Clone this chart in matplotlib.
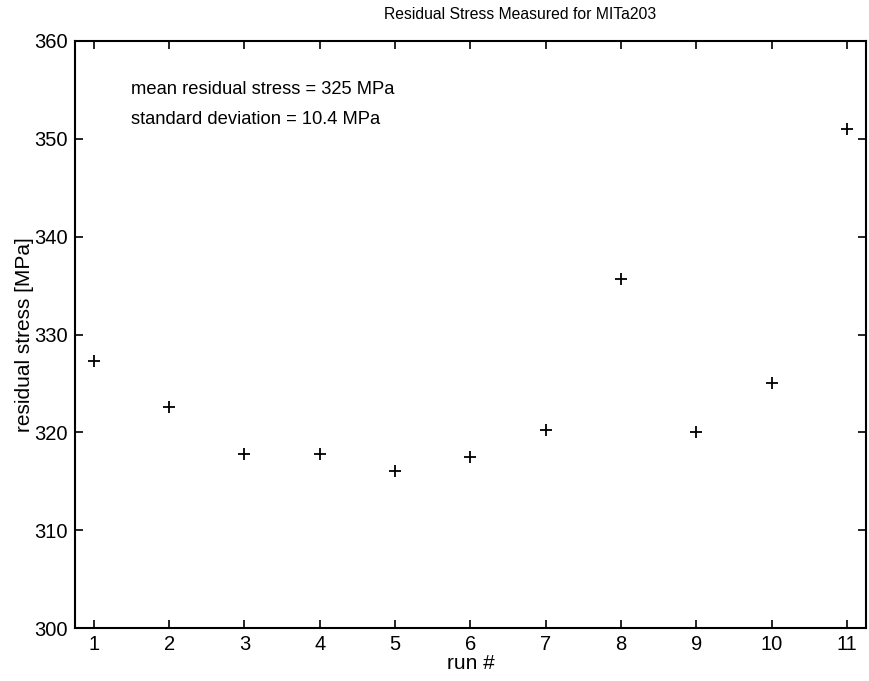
import matplotlib
matplotlib.use("Agg")
import matplotlib.pyplot as plt

plt.rcParams['font.family'] = ['Liberation Sans', 'DejaVu Sans']

runs = [1, 2, 3, 4, 5, 6, 7, 8, 9, 10, 11]
stress = [327.3, 322.6, 317.8, 317.8, 316.1, 317.5, 320.2, 335.7, 320.0, 325.0, 351.0]
xticks = [1, 2, 3, 4, 5, 6, 7, 8, 9, 10, 11]
yticks = [300, 310, 320, 330, 340, 350, 360]

fig = plt.figure(figsize=(8.7, 6.81), dpi=100)
ax = fig.add_axes([0.0862, 0.0778, 0.9092, 0.862])
ax.plot(runs, stress, linestyle='none', marker='+', color='black', markersize=9, markeredgewidth=1.3)
ax.set_xlim(0.75, 11.25)
ax.set_ylim(300, 360)
ax.set_xticks(xticks)
ax.set_yticks(yticks)
ax.tick_params(direction='in', top=True, right=True, length=6, width=1.2, labelsize=14.5, pad=5)
for s in ax.spines.values():
    s.set_linewidth(1.5)
fig.text(0.598, 0.978, 'Residual Stress Measured for MITa203', fontsize=11.3, ha='center', va='center')
ax.set_xlabel('run #', fontsize=15, labelpad=0)
ax.set_ylabel('residual stress [MPa]', fontsize=15, labelpad=0)
ax.text(1.49, 355.0, 'mean residual stress = 325 MPa', fontsize=13.2, va='center', ha='left')
ax.text(1.49, 352.0, 'standard deviation = 10.4 MPa', fontsize=13.2, va='center', ha='left')
fig.savefig('out.png', dpi=100)
